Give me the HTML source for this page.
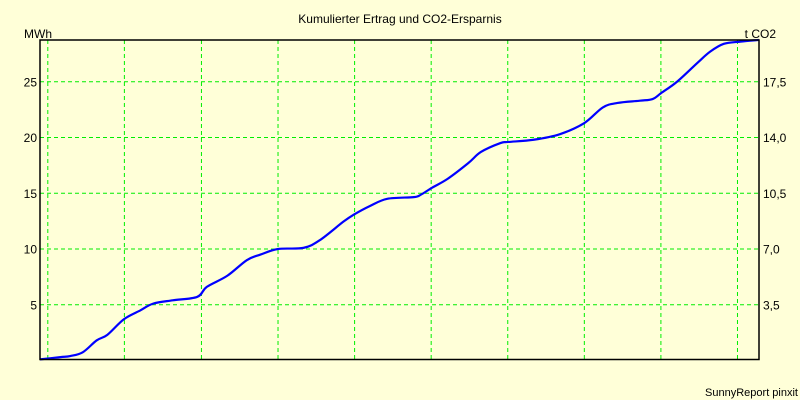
<!DOCTYPE html>
<html><head><meta charset="utf-8"><style>
body{margin:0;background:#ffffd8;}
svg{display:block;font-family:"Liberation Sans",sans-serif;}
</style></head><body>
<svg width="800" height="400" id="c">
<rect x="0" y="0" width="800" height="400" fill="#ffffd8"/>
<text x="400" y="23" font-size="12" text-anchor="middle" fill="#000">Kumulierter Ertrag und CO2-Ersparnis</text>
<text x="24" y="38" font-size="12" fill="#000">MWh</text>
<text x="776" y="38" font-size="12" text-anchor="end" fill="#000">t CO2</text>
<text x="798" y="396" font-size="11" text-anchor="end" fill="#000">SunnyReport pinxit</text>
<g id="grid"></g><g id="ticks"></g><g id="series"></g>
<rect x="40" y="40" width="719" height="319.5" fill="none" stroke="#000" stroke-width="1.5"/>
</svg>
<script>
const months=[0,2.1,3.1,4.4,5.8,6.9,8.6,10.3,11.6,13.6,16.1,17.1,19.2,21.2,22.6,24.4,27.0,28.7,31.1,32.2,33.8,35.6,38.3,39.0,40.2,41.8,43.9,45.2,47.2,48.0,50.6,53.3,55.8,57.7,59.2,61.5,62.8,63.7,65.3,67.4,68.7,70.1,71.8,73.7];
const energy=[0.1,0.3,0.4,0.75,1.8,2.3,3.7,4.5,5.1,5.4,5.7,6.6,7.6,9.0,9.5,10.0,10.1,10.8,12.45,13.1,13.85,14.5,14.65,14.85,15.5,16.3,17.7,18.7,19.5,19.6,19.8,20.3,21.3,22.7,23.1,23.3,23.45,24.0,25.0,26.7,27.7,28.4,28.6,28.75];
const leftTicks=[5,10,15,20,25];
const rightTickLabels=["3,5","7,0","10,5","14,0","17,5"];
const xGridMonths=[0.8,8.65,16.55,24.4,32.25,40.1,47.95,55.8,63.65,71.5];
const X=m=>40+m*9.755, Y=v=>360.5-v*11.15;
const NS="http://www.w3.org/2000/svg";
const g=document.getElementById('grid'),t=document.getElementById('ticks'),s=document.getElementById('series');
function mk(tag,attrs,parent){const e=document.createElementNS(NS,tag);for(const k in attrs)e.setAttribute(k,attrs[k]);parent.appendChild(e);return e;}
xGridMonths.forEach(m=>{const e=mk('line',{x1:X(m),x2:X(m),y1:40,y2:359.5,stroke:'#00ee00','stroke-width':1,'stroke-dasharray':'4,3'},g);

});
leftTicks.forEach((v,i)=>{const y=Y(v);
const l=mk('line',{x1:40,x2:759,y1:y,y2:y,stroke:'#00ee00','stroke-width':1,'stroke-dasharray':'4,3'},g);


const a=mk('text',{x:37,y:y+4.5,'font-size':12,'text-anchor':'end',fill:'#000'},t);a.textContent=v;


const b=mk('text',{x:763,y:y+4.5,'font-size':12,fill:'#000'},t);b.textContent=rightTickLabels[i];

});
const pts=months.map((m,i)=>[X(m),Y(energy[i])]);
let d='M'+pts[0][0]+','+pts[0][1];
for(let i=0;i<pts.length-1;i++){
  const p0=pts[Math.max(0,i-1)],p1=pts[i],p2=pts[i+1],p3=pts[Math.min(pts.length-1,i+2)];
  const k=1/6;
  const c1=[p1[0]+(p2[0]-p0[0])*k,p1[1]+(p2[1]-p0[1])*k];
  const c2=[p2[0]-(p3[0]-p1[0])*k,p2[1]-(p3[1]-p1[1])*k];
  d+=' C'+c1[0]+','+c1[1]+' '+c2[0]+','+c2[1]+' '+p2[0]+','+p2[1];
}
const p=mk('path',{d:d,fill:'none',stroke:'#0000ff','stroke-width':2.2,'stroke-linejoin':'round'},s);


</script>
</body></html>
